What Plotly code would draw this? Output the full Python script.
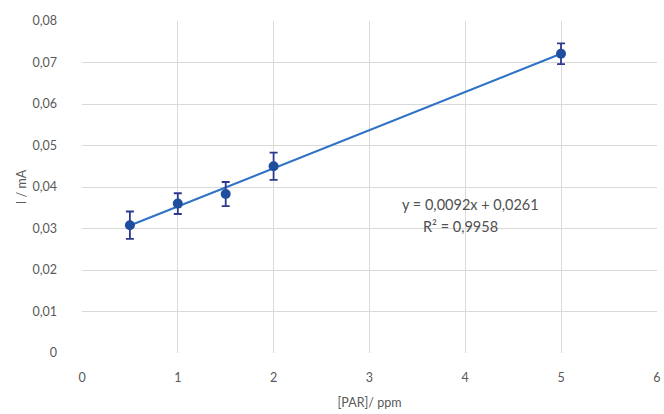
import plotly.graph_objects as go

conc = [0.5, 1, 1.5, 2, 5]
current = [0.0308, 0.0360, 0.0383, 0.0450, 0.0721]
err = [0.0033, 0.0025, 0.0029, 0.0033, 0.0025]
slope = 0.0092
intercept = 0.0261
eq_text = "y = 0,0092x + 0,0261"
r2_text = "R² = 0,9958"
yticks = [0, 0.01, 0.02, 0.03, 0.04, 0.05, 0.06, 0.07, 0.08]
yticklabels = ["0", "0,01", "0,02", "0,03", "0,04", "0,05", "0,06", "0,07", "0,08"]
xticks = [0, 1, 2, 3, 4, 5, 6]

fit_x = [min(conc), max(conc)]
fit_y = [slope * x + intercept for x in fit_x]

FONT = "Lato, Open Sans, sans-serif"
GREY = "#595959"

fig = go.Figure()
fig.add_trace(go.Scatter(x=fit_x, y=fit_y, mode="lines",
                         line=dict(color="#2F73C6", width=2.2), showlegend=False))
fig.add_trace(go.Scatter(x=conc, y=current, mode="markers",
                         marker=dict(color="#1F4E9E", size=10),
                         error_y=dict(type="data", array=err, color="#2B3A8F",
                                      thickness=1.8, width=4),
                         showlegend=False))

fig.add_annotation(x=4.05, y=0.0359, text=eq_text, showarrow=False,
                   font=dict(family=FONT, size=14.5, color="#505050"))
fig.add_annotation(x=3.95, y=0.0304, text=r2_text, showarrow=False,
                   font=dict(family=FONT, size=14.5, color="#505050"))

fig.update_layout(
    width=664, height=414,
    margin=dict(l=82, r=7, t=21, b=61),
    paper_bgcolor="white", plot_bgcolor="white",
    font=dict(family=FONT, size=12.5, color=GREY),
    xaxis=dict(range=[0, 6.002], tickvals=xticks, showgrid=True, gridcolor="#D9D9D9",
               gridwidth=1, zeroline=False, showline=False, ticks="", automargin=False,
               ticklabelstandoff=15,
               title=dict(text="[PAR]/ ppm", font=dict(size=12.5, color=GREY), standoff=14)),
    yaxis=dict(range=[0, 0.08], tickvals=yticks, ticktext=yticklabels, showgrid=True,
               gridcolor="#D9D9D9", gridwidth=1, zeroline=False, showline=False,
               ticks="", ticklabelstandoff=24, automargin=False,
               title=dict(text="I / mA", font=dict(size=12.5, color=GREY), standoff=3)),
)

fig.write_html("out.html", config={"displayModeBar": False},
               post_script="document.body.style.margin='0';document.body.style.overflow='hidden';")
